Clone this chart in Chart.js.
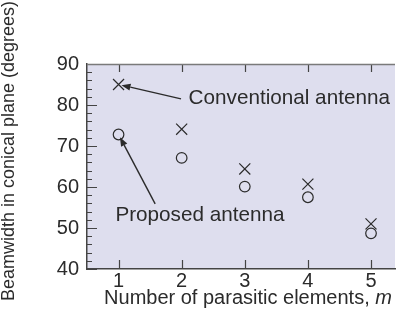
<!DOCTYPE html>
<html>
<head>
<meta charset="utf-8">
<script src="https://cdn.jsdelivr.net/npm/chart.js@4"></script>
<style>
  html, body { margin: 0; padding: 0; background: #fff; }
  #wrap { width: 404px; height: 326px; }
</style>
</head>
<body>
<div id="wrap"><canvas id="beamChart" width="404" height="326"></canvas></div>
<script>
// number of parasitic elements m
const elements = [1, 2, 3, 4, 5];
// beamwidth in the conical plane, degrees
const conventional = [85.0, 74.1, 64.4, 60.7, 51.0];
const proposed = [72.8, 67.1, 60.1, 57.5, 48.7];
const yLabels = [40, 50, 60, 70, 80, 90];
const yMinorStep = 2;

const FONT = "'Liberation Sans', Arial, Helvetica, sans-serif";
const INK = '#2b2b2b';

document.addEventListener("DOMContentLoaded", () => {
  const ctx = document.getElementById("beamChart").getContext('2d');

  // lavender plot background plus the inward tick marks and top frame line
  const frame = {
    id: 'frame',
    beforeDraw: (chart) => {
      const { ctx, chartArea: a } = chart;
      ctx.save();
      ctx.fillStyle = '#dedeee';
      ctx.fillRect(a.left, a.top, a.right - a.left, a.bottom - a.top);
      ctx.restore();
    },
    beforeDatasetsDraw: (chart) => {
      const { ctx, chartArea: a, scales: { x, y } } = chart;
      ctx.save();
      ctx.strokeStyle = '#444';
      ctx.lineWidth = 1.2;
      ctx.beginPath();
      elements.forEach(v => {
        const px = Math.round(x.getPixelForValue(v)) + 0.5;
        ctx.moveTo(px, a.bottom);
        ctx.lineTo(px, a.bottom - 9);
        ctx.moveTo(px, a.top);
        ctx.lineTo(px, a.top + 8);
      });
      for (let v = yLabels[0]; v <= yLabels[yLabels.length - 1]; v += yMinorStep) {
        const py = Math.round(y.getPixelForValue(v)) + 0.5;
        const len = yLabels.includes(v) ? 10 : 5;
        ctx.moveTo(a.left, py);
        ctx.lineTo(a.left + len, py);
      }
      ctx.stroke();
      ctx.strokeStyle = '#7a7a7a';
      ctx.lineWidth = 1.5;
      ctx.beginPath();
      ctx.moveTo(a.left, a.top + 0.5);
      ctx.lineTo(a.right, a.top + 0.5);
      ctx.stroke();
      ctx.restore();
    }
  };

  // arrows with labels pointing at the first point of each series
  const callouts = {
    id: 'callouts',
    afterDatasetsDraw: (chart) => {
      const { ctx, scales: { x, y } } = chart;
      const items = [
        { text: 'Conventional antenna', at: [2.11, 81.7], from: [1.99, 81.5], to: [elements[0], conventional[0]] },
        { text: 'Proposed antenna', at: [0.95, 53.2], from: [1.58, 55.9], to: [elements[0], proposed[0]] }
      ];
      ctx.save();
      ctx.font = '20.7px ' + FONT;
      ctx.textBaseline = 'middle';
      ctx.fillStyle = INK;
      ctx.strokeStyle = INK;
      ctx.lineWidth = 1.4;
      items.forEach(it => {
        ctx.fillText(it.text, x.getPixelForValue(it.at[0]), y.getPixelForValue(it.at[1]));
        const x0 = x.getPixelForValue(it.from[0]), y0 = y.getPixelForValue(it.from[1]);
        let x1 = x.getPixelForValue(it.to[0]), y1 = y.getPixelForValue(it.to[1]);
        const ang = Math.atan2(y1 - y0, x1 - x0);
        // stop just short of the marker centre
        x1 -= Math.cos(ang) * 3;
        y1 -= Math.sin(ang) * 3;
        const hl = 9, hw = 3.5;
        const bx = x1 - Math.cos(ang) * hl, by = y1 - Math.sin(ang) * hl;
        ctx.beginPath();
        ctx.moveTo(x0, y0);
        ctx.lineTo(bx, by);
        ctx.stroke();
        ctx.beginPath();
        ctx.moveTo(x1, y1);
        ctx.lineTo(bx + Math.sin(ang) * hw, by - Math.cos(ang) * hw);
        ctx.lineTo(bx - Math.sin(ang) * hw, by + Math.cos(ang) * hw);
        ctx.closePath();
        ctx.fill();
      });
      ctx.restore();
    }
  };

  // axis titles: rotated y title, x title with an italic m
  const titles = {
    id: 'titles',
    afterDraw: (chart) => {
      const { ctx } = chart;
      ctx.save();
      ctx.fillStyle = INK;
      ctx.textBaseline = 'middle';

      const lead = 'Number of parasitic elements, ';
      ctx.font = '20px ' + FONT;
      const w1 = ctx.measureText(lead).width;
      ctx.font = 'italic 20px ' + FONT;
      const w2 = ctx.measureText('m').width;
      const x0 = 248 - (w1 + w2) / 2;
      ctx.font = '20px ' + FONT;
      ctx.fillText(lead, x0, 298);
      ctx.font = 'italic 20px ' + FONT;
      ctx.fillText('m', x0 + w1, 298);

      ctx.translate(9, 151);
      ctx.rotate(-Math.PI / 2);
      ctx.font = '18px ' + FONT;
      ctx.textAlign = 'center';
      ctx.fillText('Beamwidth in conical plane (degrees)', 0, 0);
      ctx.restore();
    }
  };

  new Chart(ctx, {
    type: 'scatter',
    data: {
      datasets: [
        {
          label: 'Conventional antenna',
          data: elements.map((m, i) => ({ x: m, y: conventional[i] })),
          pointStyle: 'crossRot',
          pointRadius: 7.8,
          pointHoverRadius: 7.8,
          borderColor: INK,
          borderWidth: 1.2,
          backgroundColor: 'transparent'
        },
        {
          label: 'Proposed antenna',
          data: elements.map((m, i) => ({ x: m, y: proposed[i] })),
          pointStyle: 'circle',
          pointRadius: 5.3,
          pointHoverRadius: 5.3,
          borderColor: INK,
          borderWidth: 1.2,
          backgroundColor: 'transparent'
        }
      ]
    },
    options: {
      responsive: false,
      animation: false,
      layout: { padding: { top: 64, right: 0, left: 0, bottom: 0 } },
      plugins: {
        legend: { display: false },
        tooltip: { enabled: false }
      },
      scales: {
        x: {
          type: 'linear',
          min: 0.5,
          max: 5.38,
          afterBuildTicks: (s) => { s.ticks = elements.map(v => ({ value: v })); },
          afterFit: (s) => { s.height = 57; },
          grid: { display: false, drawTicks: false },
          border: { display: true, color: '#444', width: 1.5 },
          ticks: {
            autoSkip: false,
            maxRotation: 0,
            padding: 0,
            color: INK,
            font: { family: FONT, size: 20 }
          }
        },
        y: {
          type: 'linear',
          min: 40,
          max: 90,
          afterBuildTicks: (s) => { s.ticks = yLabels.map(v => ({ value: v })); },
          afterFit: (s) => { s.width = 87; },
          grid: { display: false, drawTicks: false },
          border: { display: true, color: '#444', width: 1.5 },
          ticks: {
            autoSkip: false,
            padding: 8,
            color: INK,
            font: { family: FONT, size: 20 }
          }
        }
      }
    },
    plugins: [frame, callouts, titles]
  });
});
</script>
</body>
</html>
